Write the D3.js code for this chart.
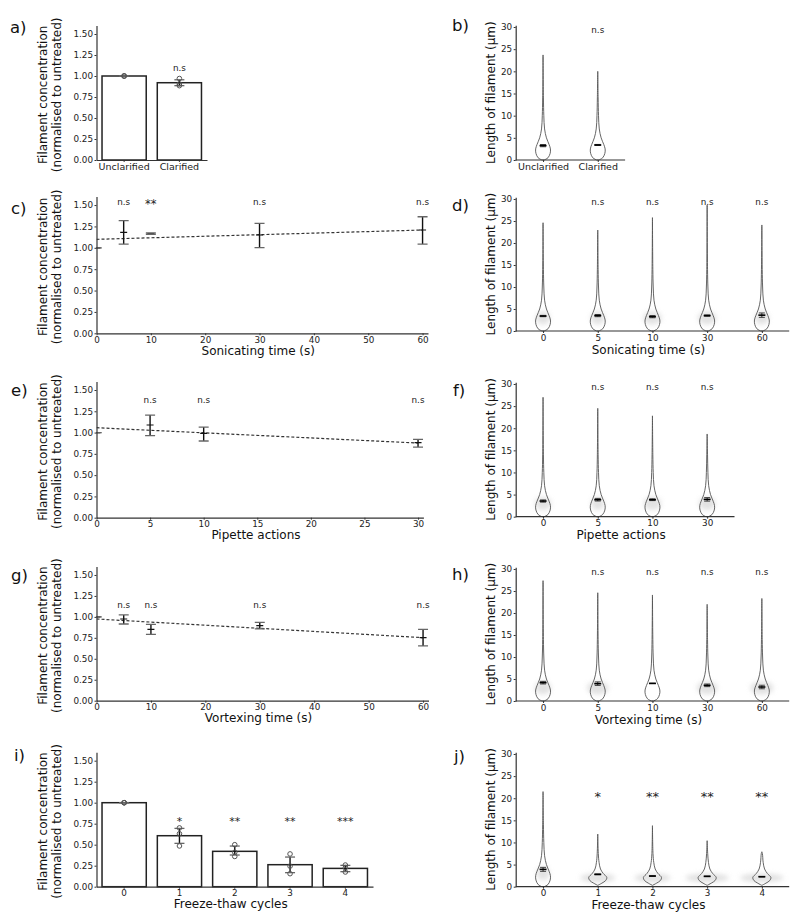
<!DOCTYPE html>
<html><head><meta charset="utf-8">
<script src="https://cdn.jsdelivr.net/npm/d3@7"></script>
<style>body{margin:0;background:#fff} svg{display:block}</style>
</head><body>
<script>
const FONT = "'DejaVu Sans', Verdana, sans-serif";

// ---------------- data ----------------
const concTicks = [0, 0.25, 0.5, 0.75, 1.0, 1.25, 1.5];
const lengthTicks = [0, 5, 10, 15, 20, 25, 30];

// a) clarification
const aCategories = ["Unclarified", "Clarified"];
const aMeans = [1.00, 0.92];
const aLow = [1.00, 0.885];
const aHigh = [1.00, 0.955];
const aReplicates = [[1.00, 1.00, 1.00], [0.97, 0.905, 0.885]];
const aSig = ["", "n.s"];

// b) clarification lengths
const bCategories = ["Unclarified", "Clarified"];
const bMax = [23.7, 20.0];
const bMeans = [3.24, 3.39];
const bSem = [0.25, 0.12];
const bSpread = [0.0, 0.0];
const bShape = ["long", "long"];
const bSig = ["", "n.s"];

// c) sonication
const cTimes = [0, 5, 10, 30, 60];
const cMeans = [1.00, 1.18, 1.165, 1.15, 1.208];
const cLow = [1.00, 1.044, 1.157, 1.001, 1.044];
const cHigh = [1.00, 1.317, 1.173, 1.286, 1.363];
const cFitX = [0, 60];
const cFitY = [1.099, 1.208];
const cSig = ["", "n.s", "**", "n.s", "n.s"];
const cTicks = [0, 10, 20, 30, 40, 50, 60];

// d) sonication lengths
const dCategories = ["0", "5", "10", "30", "60"];
const dMax = [24.6, 22.95, 25.76, 28.6, 24.1];
const dMeans = [3.4, 3.5, 3.26, 3.5, 3.6];
const dSem = [0.15, 0.25, 0.25, 0.15, 0.5];
const dSpread = [0.13, 0.13, 0.17, 0.17, 0.13];
const dShape = ["long", "long", "long", "long", "long"];
const dSig = ["", "n.s", "n.s", "n.s", "n.s"];

// e) pipetting
const eTimes = [0, 5, 10, 30];
const eMeans = [1.00, 1.089, 0.991, 0.881];
const eLow = [1.00, 0.964, 0.901, 0.830];
const eHigh = [1.00, 1.206, 1.065, 0.920];
const eFitX = [0, 30];
const eFitY = [1.057, 0.877];
const eSig = ["", "n.s", "n.s", "n.s"];
const eTicks = [0, 5, 10, 15, 20, 25, 30];

// f) pipetting lengths
const fCategories = ["0", "5", "10", "30"];
const fMax = [27.0, 24.5, 22.8, 18.7];
const fMeans = [3.54, 3.84, 3.84, 3.92];
const fSem = [0.25, 0.3, 0.2, 0.4];
const fSpread = [0.15, 0.12, 0.16, 0.15];
const fShape = ["long", "long", "long", "long"];
const fSig = ["", "n.s", "n.s", "n.s"];

// g) vortexing
const gTimes = [0, 5, 10, 30, 60];
const gMeans = [1.00, 0.975, 0.852, 0.895, 0.752];
const gLow = [1.00, 0.915, 0.792, 0.856, 0.653];
const gHigh = [1.00, 1.023, 0.911, 0.935, 0.852];
const gFitX = [0, 60];
const gFitY = [0.975, 0.752];
const gSig = ["", "n.s", "n.s", "n.s", "n.s"];
const gTicks = [0, 10, 20, 30, 40, 50, 60];

// h) vortexing lengths
const hCategories = ["0", "5", "10", "30", "60"];
const hMax = [27.35, 24.6, 24.1, 21.97, 23.3];
const hMeans = [4.17, 3.94, 4.0, 3.56, 3.18];
const hSem = [0.3, 0.4, 0.03, 0.3, 0.4];
const hSpread = [0.15, 0.2, 0.0, 0.19, 0.21];
const hShape = ["long", "long", "long", "long", "long"];
const hSig = ["", "n.s", "n.s", "n.s", "n.s"];

// i) freeze-thaw
const iCategories = ["0", "1", "2", "3", "4"];
const iMeans = [1.00, 0.607, 0.421, 0.262, 0.218];
const iLow = [1.00, 0.516, 0.377, 0.167, 0.179];
const iHigh = [1.00, 0.694, 0.484, 0.353, 0.254];
const iReplicates = [[1, 1, 1], [0.70, 0.63, 0.485], [0.50, 0.41, 0.36], [0.39, 0.245, 0.155], [0.258, 0.226, 0.175]];
const iSig = ["", "*", "**", "**", "***"];

// j) freeze-thaw lengths
const jCategories = ["0", "1", "2", "3", "4"];
const jMax = [21.5, 11.9, 13.8, 10.4, 7.9];
const jMeans = [3.92, 2.79, 2.41, 2.34, 2.26];
const jSem = [0.45, 0.08, 0.06, 0.05, 0.05];
const jSpread = [0.12, 0.32, 0.33, 0.4, 0.4];
const jShape = ["long", "short", "short", "short", "short"];
const jSig = ["", "*", "**", "**", "**"];

// violin density outlines (half-width as a fraction of the category spacing)
const longKnots = [0, 0.5, 1.5, 2.5, 3.5, 5, 7, 10, 14];
const longWidths = [0.02, 0.09, 0.13, 0.135, 0.11, 0.062, 0.028, 0.014, 0.007];
const shortKnots = [0.3, 0.8, 1.4, 2.1, 3.0, 4.0, 5.5, 7.5];
const shortWidths = [0.0, 0.075, 0.145, 0.165, 0.1, 0.05, 0.024, 0.01];

// ---------------- drawing ----------------
const LX = 96.5;      // y-axis of left panels
const RX = 515.7;     // y-axis of right panels
const STEP = 54.7;    // category spacing

const svg = d3.select("body").append("svg")
  .attr("width", 800).attr("height", 922)
  .style("font-family", FONT);
const defs = svg.append("defs");
defs.append("filter").attr("id", "blur")
  .attr("x", "-60%").attr("y", "-60%").attr("width", "220%").attr("height", "220%")
  .append("feGaussianBlur").attr("stdDeviation", 2.4);

function styleAxis(a, fs) {
  a.attr("font-family", FONT).attr("font-size", fs);
  a.select(".domain").attr("stroke", "#333").attr("stroke-width", 1.2);
  a.selectAll(".tick line").attr("stroke", "#333").attr("stroke-width", 1);
  a.selectAll(".tick text").attr("fill", "#222");
}
function panelLetter(txt, x, y) {
  svg.append("text").attr("x", x).attr("y", y).attr("font-size", 16.5)
    .attr("fill", "#111").text(txt);
}
function leftYLabel(cy) {
  const t = svg.append("text").attr("transform", `translate(47,${cy}) rotate(-90)`)
    .attr("text-anchor", "middle").attr("font-size", 12).attr("fill", "#111");
  t.append("tspan").attr("x", 0).attr("y", 0).text("Filament concentration");
  t.append("tspan").attr("x", 0).attr("y", 14.4).text("(normalised to untreated)");
}
function rightYLabel(cy) {
  svg.append("text").attr("transform", `translate(495,${cy}) rotate(-90)`)
    .attr("text-anchor", "middle").attr("font-size", 12).attr("fill", "#111")
    .text("Length of filament (μm)");
}
function xLabel(txt, cx, y) {
  svg.append("text").attr("x", cx).attr("y", y).attr("text-anchor", "middle")
    .attr("font-size", 12).attr("fill", "#111").text(txt);
}
function sigText(g, txt, x, yBase, starSize) {
  if (!txt) return;
  const isStar = txt.indexOf("*") >= 0;
  g.append("text").attr("x", x).attr("y", isStar ? yBase + 2.5 : yBase)
    .attr("text-anchor", "middle").attr("font-size", isStar ? starSize : 8.8)
    .attr("fill", "#222").text(txt);
}
function concAxis(y) {
  const a = svg.append("g").attr("transform", `translate(${LX},0)`)
    .call(d3.axisLeft(y).tickValues(concTicks).tickFormat(d3.format(".2f"))
      .tickSize(2).tickSizeOuter(0).tickPadding(1.5));
  styleAxis(a, 8.8);
}
function lengthAxis(y) {
  const a = svg.append("g").attr("transform", `translate(${RX},0)`)
    .call(d3.axisLeft(y).tickValues(lengthTicks).tickFormat(d3.format("d"))
      .tickSize(2).tickSizeOuter(0).tickPadding(1.5));
  styleAxis(a, 8.8);
}
function errorBar(g, cx, yLo, yHi, yMean, capW, meanW) {
  g.append("line").attr("x1", cx).attr("x2", cx).attr("y1", yLo).attr("y2", yHi)
    .attr("stroke", "#111").attr("stroke-width", 1.4);
  g.append("line").attr("x1", cx - meanW).attr("x2", cx + meanW).attr("y1", yMean).attr("y2", yMean)
    .attr("stroke", "#111").attr("stroke-width", 1.2);
  [yLo, yHi].forEach(yy => g.append("line").attr("x1", cx - capW).attr("x2", cx + capW)
    .attr("y1", yy).attr("y2", yy).attr("stroke", "#666").attr("stroke-width", 1.3));
}

function barPanel(p) {
  const y = d3.scaleLinear().domain([0, 1.6]).range([p.y0, p.ytop]);
  const x = d3.scaleBand().domain(p.cats).range([LX, p.xEnd]).paddingInner(0.2).paddingOuter(0.1);
  const g = svg.append("g");
  g.selectAll("rect").data(p.cats).join("rect")
    .attr("x", d => x(d)).attr("y", (d, i) => y(p.means[i]))
    .attr("width", x.bandwidth()).attr("height", (d, i) => y(0) - y(p.means[i]))
    .attr("fill", "#fff").attr("stroke", "#222").attr("stroke-width", 1.5);
  p.cats.forEach((c, i) => {
    const cx = x(c) + x.bandwidth() / 2;
    errorBar(g, cx, y(p.low[i]), y(p.high[i]), y(p.means[i]), 5, 0);
    p.reps[i].forEach(v => g.append("circle").attr("cx", cx).attr("cy", y(v)).attr("r", 2.3)
      .attr("fill", "none").attr("stroke", "#555").attr("stroke-width", 1));
    sigText(g, p.sig[i], cx, y(p.sigVal), p.starSize);
  });
  concAxis(y);
  const a = svg.append("g").attr("transform", `translate(0,${p.y0})`)
    .call(d3.axisBottom(x).tickSize(2).tickSizeOuter(0).tickPadding(1.5));
  styleAxis(a, p.xfs);
  leftYLabel((p.y0 + p.ytop) / 2 + 2);
  if (p.xlabel) xLabel(p.xlabel, (LX + p.xEnd) / 2 - 4, p.y0 + 21.5);
  panelLetter(p.letter, p.lx, p.ly);
}

function linePanel(p) {
  const y = d3.scaleLinear().domain([0, 1.6]).range([p.y0, p.ytop]);
  const x = d3.scaleLinear().domain([0, p.xmax]).range([LX, p.xEnd]);
  const id = "clip" + p.letter.replace(")", "");
  defs.append("clipPath").attr("id", id).append("rect")
    .attr("x", LX).attr("y", p.ytop).attr("width", p.xEnd - LX).attr("height", p.y0 - p.ytop);
  const g = svg.append("g").attr("clip-path", `url(#${id})`);
  g.append("path").attr("d", d3.line()(p.fitX.map((v, i) => [x(v), y(p.fitY[i])])))
    .attr("fill", "none").attr("stroke", "#333").attr("stroke-width", 1.2).attr("stroke-dasharray", "3,2");
  p.xs.forEach((v, i) => errorBar(g, x(v), y(p.low[i]), y(p.high[i]), y(p.means[i]), 5, 3.5));
  const g2 = svg.append("g");
  p.xs.forEach((v, i) => sigText(g2, p.sig[i], x(v), y(p.sigVal), 11.5));
  concAxis(y);
  const a = svg.append("g").attr("transform", `translate(0,${p.y0})`)
    .call(d3.axisBottom(x).tickValues(p.ticks).tickFormat(d3.format("d"))
      .tickSize(2).tickSizeOuter(0).tickPadding(1.5));
  styleAxis(a, 8.8);
  leftYLabel((p.y0 + p.ytop) / 2 + 2);
  xLabel(p.xlabel, (LX + p.xEnd) / 2 - 4, p.y0 + 21.5);
  panelLetter(p.letter, p.lx, p.ly);
}

function violinPanel(p) {
  const unit = (p.y0 - p.y30) / 30;
  const y = d3.scaleLinear().domain([0, 30.4]).range([p.y0, p.y0 - 30.4 * unit]);
  const n = p.cats.length;
  const x = d3.scalePoint().domain(p.cats).range([RX, RX + n * STEP]).padding(0.5);
  const step = x.step();
  const g = svg.append("g");
  p.cats.forEach((c, i) => {
    const cx = x(c);
    const isShort = p.shape[i] === "short";
    const knots = isShort ? shortKnots : longKnots;
    const widths = isShort ? shortWidths : longWidths;
    if (p.spread[i] > 0) {
      g.append("ellipse").attr("cx", cx).attr("cy", y(isShort ? 2.0 : 3.0))
        .attr("rx", p.spread[i] * step).attr("ry", (isShort ? 1.0 : 1.5) * unit)
        .attr("fill", "#d2d2d2").attr("opacity", 0.65).attr("filter", "url(#blur)");
    }
    const pts = knots.map((k, j) => ({ v: k, w: widths[j] })).filter(d => d.v < p.max[i] - 0.3);
    pts.push({ v: p.max[i], w: 0 });
    const area = d3.area().y(d => y(d.v))
      .x0(d => cx - d.w * step).x1(d => cx + d.w * step)
      .curve(d3.curveCatmullRom.alpha(0.5));
    g.append("path").attr("d", area(pts)).attr("fill", "none")
      .attr("stroke", "#555").attr("stroke-width", 0.9);
    // mean ± sem
    const yl = y(p.means[i] - p.sem[i]), yh = y(p.means[i] + p.sem[i]), ym = y(p.means[i]);
    g.append("line").attr("x1", cx).attr("x2", cx).attr("y1", yl).attr("y2", yh)
      .attr("stroke", "#222").attr("stroke-width", 1);
    [yl, yh].forEach(yy => g.append("line").attr("x1", cx - 3).attr("x2", cx + 3)
      .attr("y1", yy).attr("y2", yy).attr("stroke", "#444").attr("stroke-width", 1));
    g.append("line").attr("x1", cx - 3.5).attr("x2", cx + 3.5).attr("y1", ym).attr("y2", ym)
      .attr("stroke", "#000").attr("stroke-width", 1.6);
    sigText(g, p.sig[i], cx, y(p.sigVal), 13);
  });
  lengthAxis(y);
  const a = svg.append("g").attr("transform", `translate(0,${p.y0})`)
    .call(d3.axisBottom(x).tickSize(2).tickSizeOuter(0).tickPadding(1.5));
  styleAxis(a, p.xfs);
  // extend the x axis line over the full band
  a.select(".domain").attr("d", `M${RX},0H${RX + n * STEP}`);
  rightYLabel((p.y0 + y(30.4)) / 2);
  if (p.xlabel) xLabel(p.xlabel, (RX + RX + n * STEP) / 2 - 4, p.y0 + 22.5);
  panelLetter(p.letter, p.lx, p.ly);
}

// ---- panels ----
barPanel({ cats: aCategories, means: aMeans, low: aLow, high: aHigh, reps: aReplicates, sig: aSig,
  sigVal: 1.054, starSize: 11, y0: 160, ytop: 25.6, xEnd: 207, xfs: 9.5, xlabel: null,
  letter: "a)", lx: 10, ly: 32.5 });
violinPanel({ cats: bCategories, max: bMax, means: bMeans, sem: bSem, spread: bSpread, shape: bShape,
  sig: bSig, sigVal: 28.6, y0: 160, y30: 27, xfs: 9.5, xlabel: null, letter: "b)", lx: 452, ly: 31 });

linePanel({ xs: cTimes, means: cMeans, low: cLow, high: cHigh, fitX: cFitX, fitY: cFitY, sig: cSig,
  sigVal: 1.50, ticks: cTicks, xmax: 61, xEnd: 428, y0: 333.3, ytop: 196.5,
  xlabel: "Sonicating time (s)", letter: "c)", lx: 11, ly: 213.5 });
violinPanel({ cats: dCategories, max: dMax, means: dMeans, sem: dSem, spread: dSpread, shape: dShape,
  sig: dSig, sigVal: 28.6, y0: 331, y30: 199, xfs: 8.8, xlabel: "Sonicating time (s)",
  letter: "d)", lx: 452, ly: 211 });

linePanel({ xs: eTimes, means: eMeans, low: eLow, high: eHigh, fitX: eFitX, fitY: eFitY, sig: eSig,
  sigVal: 1.35, ticks: eTicks, xmax: 30.5, xEnd: 423.4, y0: 517.7, ytop: 381.5,
  xlabel: "Pipette actions", letter: "e)", lx: 11, ly: 396 });
violinPanel({ cats: fCategories, max: fMax, means: fMeans, sem: fSem, spread: fSpread, shape: fShape,
  sig: fSig, sigVal: 28.6, y0: 516.7, y30: 384, xfs: 8.8, xlabel: "Pipette actions",
  letter: "f)", lx: 453, ly: 396 });

linePanel({ xs: gTimes, means: gMeans, low: gLow, high: gHigh, fitX: gFitX, fitY: gFitY, sig: gSig,
  sigVal: 1.106, ticks: gTicks, xmax: 61, xEnd: 428.5, y0: 700.7, ytop: 566.6,
  xlabel: "Vortexing time (s)", letter: "g)", lx: 11, ly: 580.5 });
violinPanel({ cats: hCategories, max: hMax, means: hMeans, sem: hSem, spread: hSpread, shape: hShape,
  sig: hSig, sigVal: 28.6, y0: 701, y30: 569, xfs: 8.8, xlabel: "Vortexing time (s)",
  letter: "h)", lx: 452, ly: 580 });

barPanel({ cats: iCategories, means: iMeans, low: iLow, high: iHigh, reps: iReplicates, sig: iSig,
  sigVal: 0.77, starSize: 11, y0: 886.7, ytop: 752.3, xEnd: 373, xfs: 8.8,
  xlabel: "Freeze-thaw cycles", letter: "i)", lx: 14, ly: 760.7 });
violinPanel({ cats: jCategories, max: jMax, means: jMeans, sem: jSem, spread: jSpread, shape: jShape,
  sig: jSig, sigVal: 20.0, y0: 886.7, y30: 754, xfs: 8.8, xlabel: "Freeze-thaw cycles",
  letter: "j)", lx: 454, ly: 762 });
</script>
</body></html>
